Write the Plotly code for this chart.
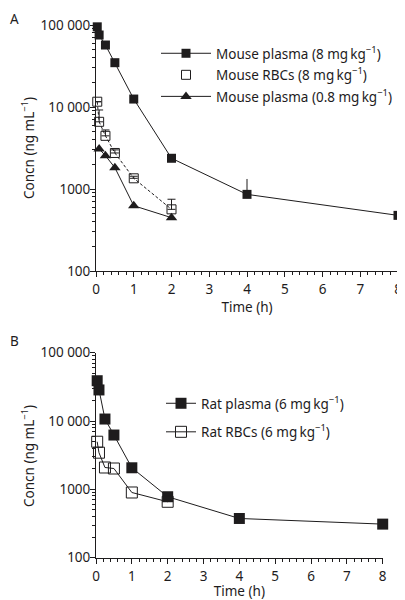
import plotly.graph_objects as go

# ---------------- data ----------------
# Panel A (mouse)
mp8_t = [0.033, 0.083, 0.25, 0.5, 1, 2, 4, 8]
mp8_c = [95000, 75500, 57000, 34700, 12500, 2370, 860, 477]
mp8_err_up = [0, 0, 0, 0, 0, 0, 465, 0]

mrbc_t = [0.033, 0.083, 0.25, 0.5, 1, 2]
mrbc_c = [11600, 6600, 4450, 2750, 1350, 565]
mrbc_err_up = [0, 2600, 800, 250, 80, 185]

mp08_t = [0.083, 0.25, 0.5, 1, 2]
mp08_c = [3080, 2550, 1820, 625, 447]

# Panel B (rat)
rp_t = [0.033, 0.083, 0.25, 0.5, 1, 2, 4, 8]
rp_c = [38900, 28500, 10700, 6240, 2070, 780, 375, 310]

rrbc_t = [0.033, 0.083, 0.25, 0.5, 1, 2]
rrbc_c = [4980, 3440, 2090, 2020, 900, 658]

ytick_vals = [100, 1000, 10000, 100000]
ytick_text = ["100", "1000", "10 000", "100 000"]
xtick_vals = [0, 1, 2, 3, 4, 5, 6, 7, 8]

BLACK = "#1e1c1d"
FONT = "Noto Sans"
FS = 13.5
# the page body has an 8px margin, so the figure is drawn at (8, 8)
OFF = 8
W, H = 405 - OFF, 600 - OFF

def px_x(p):
    return (p - OFF) / W

def px_y(p):
    return 1 - (p - OFF) / H

fig = go.Figure()

unit = "mg\u2009kg<sup>\u22121</sup>"

fig.add_trace(go.Scatter(
    x=mp8_t, y=mp8_c, mode="lines+markers", name=f"Mouse plasma (8 {unit})",
    line=dict(color=BLACK, width=1),
    marker=dict(symbol="square", size=9, color=BLACK),
    error_y=dict(type="data", array=mp8_err_up, arrayminus=[0]*len(mp8_t),
                 color=BLACK, thickness=1, width=0),
    xaxis="x", yaxis="y", legend="legend", legendgroup="a1", cliponaxis=False))
fig.add_trace(go.Scatter(
    x=mrbc_t, y=mrbc_c, mode="lines+markers", name=f"Mouse RBCs (8 {unit})",
    line=dict(color=BLACK, width=1, dash="3px,2px"),
    marker=dict(symbol="square-open", size=9, color=BLACK, line=dict(width=1)),
    error_y=dict(type="data", array=mrbc_err_up, arrayminus=[0]*len(mrbc_t),
                 color=BLACK, thickness=1, width=4),
    xaxis="x", yaxis="y", legend="legend", legendgroup="a2", cliponaxis=False,
    showlegend=False))
# legend entry for RBCs (marker only, as in the reference)
fig.add_trace(go.Scatter(
    x=[None], y=[None], mode="markers", name=f"Mouse RBCs (8 {unit})",
    marker=dict(symbol="square-open", size=9, color=BLACK, line=dict(width=1)),
    xaxis="x", yaxis="y", legend="legend", legendgroup="a2"))
fig.add_trace(go.Scatter(
    x=mp08_t, y=mp08_c, mode="lines+markers", name=f"Mouse plasma (0.8 {unit})",
    line=dict(color=BLACK, width=1),
    marker=dict(symbol="triangle-up", size=10, color=BLACK),
    xaxis="x", yaxis="y", legend="legend", legendgroup="a3", cliponaxis=False))

fig.add_trace(go.Scatter(
    x=rp_t, y=rp_c, mode="lines+markers", name=f"Rat plasma (6 {unit})",
    line=dict(color=BLACK, width=1),
    marker=dict(symbol="square", size=11, color=BLACK),
    xaxis="x2", yaxis="y2", legend="legend2", legendgroup="b1", cliponaxis=False))
fig.add_trace(go.Scatter(
    x=rrbc_t, y=rrbc_c, mode="lines+markers", name=f"Rat RBCs (6 {unit})",
    line=dict(color=BLACK, width=1),
    marker=dict(symbol="square-open", size=11, color=BLACK, line=dict(width=1)),
    xaxis="x2", yaxis="y2", legend="legend2", legendgroup="b2", cliponaxis=False))

xcommon = dict(range=[0, 8], tickvals=xtick_vals, ticks="outside", ticklen=5,
               tickwidth=1, tickcolor=BLACK, showline=True, linecolor=BLACK,
               linewidth=1, showgrid=False, zeroline=False, automargin=False,
               ticklabelstandoff=1,
               minor=dict(dtick=0.2, ticks="outside", ticklen=3, tickcolor=BLACK,
                          tickwidth=1, showgrid=False),
               tickfont=dict(size=FS, color=BLACK, family=FONT),
               title=dict(text="Time (h)", font=dict(size=FS, color=BLACK, family=FONT),
                          standoff=0))
ycommon = dict(type="log", range=[2, 5], tickvals=ytick_vals, ticktext=ytick_text,
               ticks="outside", ticklen=5, tickwidth=1, tickcolor=BLACK,
               showline=True, linecolor=BLACK, linewidth=1, showgrid=False,
               zeroline=False, automargin=False, ticklabelstandoff=-3,
               minor=dict(dtick="D1", ticks="outside", ticklen=3, tickcolor=BLACK,
                          tickwidth=1, showgrid=False),
               tickfont=dict(size=FS, color=BLACK, family=FONT))

ytitle = "Concn (ng mL<sup>\u22121</sup>)"
tfont = dict(size=FS, color=BLACK, family=FONT)

fig.update_layout(
    width=W, height=H,
    margin=dict(l=0, r=0, t=0, b=0, autoexpand=False),
    paper_bgcolor="white", plot_bgcolor="white",
    font=dict(family=FONT, color=BLACK),
    xaxis=dict(domain=[px_x(96), px_x(398)], anchor="y", **xcommon),
    yaxis=dict(domain=[px_y(271), px_y(25)], anchor="x", **ycommon),
    xaxis2=dict(domain=[px_x(96), px_x(382.7)], anchor="y2", **xcommon),
    yaxis2=dict(domain=[px_y(557.7), px_y(352.7)], anchor="x2", **ycommon),
    legend=dict(x=px_x(156), y=px_y(38), xanchor="left", yanchor="top",
                bgcolor="rgba(0,0,0,0)", traceorder="grouped", tracegroupgap=1,
                itemwidth=50, font=tfont),
    legend2=dict(x=px_x(161), y=px_y(388), xanchor="left", yanchor="top",
                 bgcolor="rgba(0,0,0,0)", traceorder="grouped", tracegroupgap=8,
                 font=tfont),
    annotations=[
        dict(text="A", x=px_x(8), y=px_y(8), xref="paper", yref="paper",
             xanchor="left", yanchor="top", showarrow=False, font=tfont),
        dict(text="B", x=px_x(8), y=px_y(330), xref="paper", yref="paper",
             xanchor="left", yanchor="top", showarrow=False, font=tfont),
        dict(text=ytitle, textangle=-90, x=px_x(28), y=px_y(148),
             xref="paper", yref="paper", xanchor="center", yanchor="middle",
             showarrow=False, font=tfont),
        dict(text=ytitle, textangle=-90, x=px_x(28), y=px_y(456),
             xref="paper", yref="paper", xanchor="center", yanchor="middle",
             showarrow=False, font=tfont),
    ],
)

fig.write_html("out.html")
